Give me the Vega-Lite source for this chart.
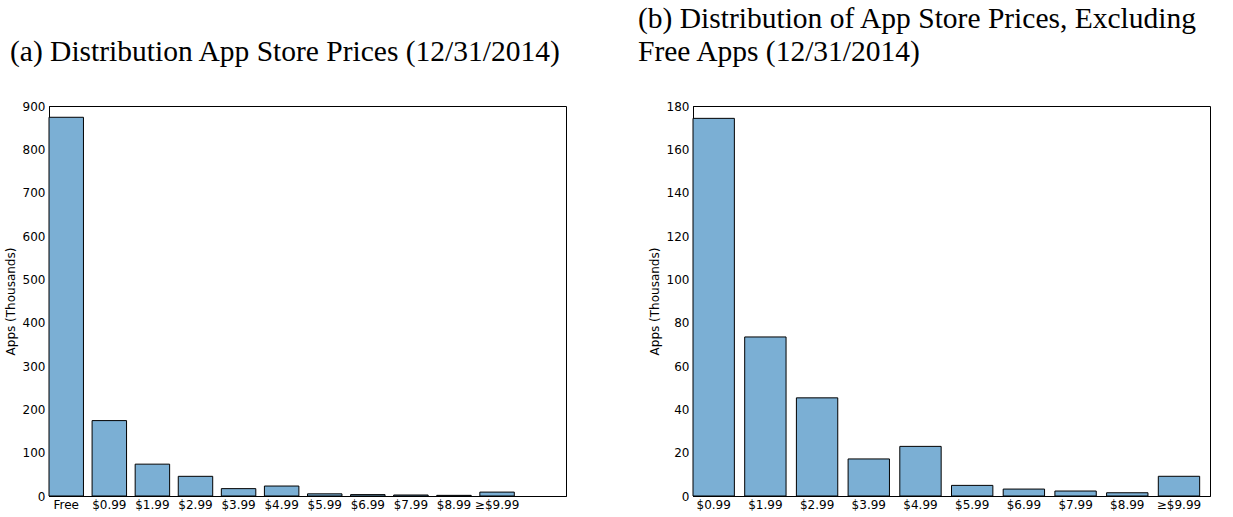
{
  "$schema": "https://vega.github.io/schema/vega-lite/v6.json",
  "padding": {"left": 3, "top": 3, "right": 5, "bottom": 5},
  "background": "#ffffff",
  "config": {
    "view": {"stroke": "#000000", "strokeWidth": 1},
    "axis": {
      "labelFont": "DejaVu Sans", "labelFontSize": 12, "labelColor": "#000000",
      "titleFont": "DejaVu Sans", "titleFontSize": 12, "titleFontWeight": "normal", "titleColor": "#000000",
      "domainColor": "#000000", "tickColor": "#000000", "grid": false
    },
    "title": {"font": "Liberation Serif", "fontSize": 29.5, "fontWeight": "normal", "anchor": "start", "frame": "group", "color": "#000000"},
    "concat": {"spacing": 70}
  },
  "datasets": {
    "all": [
      {"price": "Free", "apps": 874},
      {"price": "$0.99", "apps": 174},
      {"price": "$1.99", "apps": 73.5},
      {"price": "$2.99", "apps": 45.4},
      {"price": "$3.99", "apps": 17},
      {"price": "$4.99", "apps": 23},
      {"price": "$5.99", "apps": 5},
      {"price": "$6.99", "apps": 3.2},
      {"price": "$7.99", "apps": 2.3},
      {"price": "$8.99", "apps": 1.5},
      {"price": "≥$9.99", "apps": 9}
    ],
    "paid": [
      {"price": "$0.99", "apps": 174.3},
      {"price": "$1.99", "apps": 73.4},
      {"price": "$2.99", "apps": 45.3},
      {"price": "$3.99", "apps": 17.1},
      {"price": "$4.99", "apps": 22.9},
      {"price": "$5.99", "apps": 4.9},
      {"price": "$6.99", "apps": 3.2},
      {"price": "$7.99", "apps": 2.3},
      {"price": "$8.99", "apps": 1.5},
      {"price": "≥$9.99", "apps": 9.1}
    ]
  },
  "hconcat": [
    {
      "width": 517, "height": 390,
      "title": {"text": [" ", "(a) Distribution App Store Prices (12/31/2014)"], "dx": -39, "offset": 33, "lineHeight": 33},
      "data": {"name": "all"},
      "mark": {"type": "bar", "fill": "#7BAFD4", "stroke": "#000000", "strokeWidth": 1},
      "encoding": {
        "x": {"field": "price", "type": "nominal", "sort": null,
              "scale": {"paddingInner": 0.2, "paddingOuter": 0.6, "align": 0},
              "axis": {"title": null, "labelAngle": 0, "ticks": false, "labelPadding": 3}},
        "y": {"field": "apps", "type": "quantitative",
              "scale": {"domain": [0, 900], "nice": false},
              "axis": {"title": "Apps (Thousands)", "values": [0, 100, 200, 300, 400, 500, 600, 700, 800, 900],
                       "tickSize": -4, "labelPadding": 8, "titlePadding": 5}}
      }
    },
    {
      "width": 517, "height": 390,
      "title": {"text": ["(b) Distribution of App Store Prices, Excluding", "Free Apps (12/31/2014)"], "dx": -55, "offset": 33, "lineHeight": 33},
      "data": {"name": "paid"},
      "mark": {"type": "bar", "fill": "#7BAFD4", "stroke": "#000000", "strokeWidth": 1},
      "encoding": {
        "x": {"field": "price", "type": "nominal", "sort": null,
              "scale": {"paddingInner": 0.2, "paddingOuter": 0.1, "align": 0},
              "axis": {"title": null, "labelAngle": 0, "ticks": false, "labelPadding": 3}},
        "y": {"field": "apps", "type": "quantitative",
              "scale": {"domain": [0, 180], "nice": false},
              "axis": {"title": "Apps (Thousands)", "values": [0, 20, 40, 60, 80, 100, 120, 140, 160, 180],
                       "tickSize": -4, "labelPadding": 8, "titlePadding": 5}}
      }
    }
  ]
}
